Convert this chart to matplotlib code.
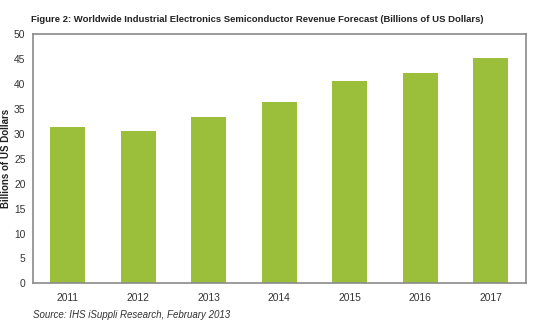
import matplotlib
matplotlib.use("Agg")
import matplotlib.pyplot as plt

years = ['2011', '2012', '2013', '2014', '2015', '2016', '2017']
revenue = [31.3, 30.5, 33.3, 36.5, 40.7, 42.2, 45.2]

plt.rcParams['font.family'] = ['Liberation Sans', 'DejaVu Sans']

fig = plt.figure(figsize=(5.5, 3.24), dpi=100)
ax = fig.add_axes([32.5 / 550, 1 - 283.3 / 324, 493.5 / 550, 249 / 324])

ax.bar(range(len(years)), revenue, width=0.49, color='#9cbf3b')
ax.set_xlim(-0.5, len(years) - 0.5)
ax.set_ylim(0, 50)
ax.set_yticks(range(0, 51, 5))
ax.set_xticks(range(len(years)))
ax.set_xticklabels(years)
ax.tick_params(length=0, labelsize=7.4, colors='#333333')
ax.tick_params(axis='x', pad=7)
ax.tick_params(axis='y', pad=5)
for s in ax.spines.values():
    s.set_color('#8a8a8a')
    s.set_linewidth(1.2)

fig.text(31 / 550, 1 - 19 / 324, 'Figure 2: Worldwide Industrial Electronics Semiconductor Revenue Forecast (Billions of US Dollars)',
         fontsize=6.8, fontweight='bold', color='#222222', va='center')
fig.text(6 / 550, 1 - 158 / 324, 'Billions of US Dollars', rotation=90, fontsize=7,
         fontweight='bold', color='#222222', ha='center', va='center')
fig.text(33 / 550, 1 - 315 / 324, 'Source: IHS iSuppli Research, February 2013',
         fontsize=7, style='italic', color='#333333', va='center')

fig.savefig('out.png', dpi=100)
